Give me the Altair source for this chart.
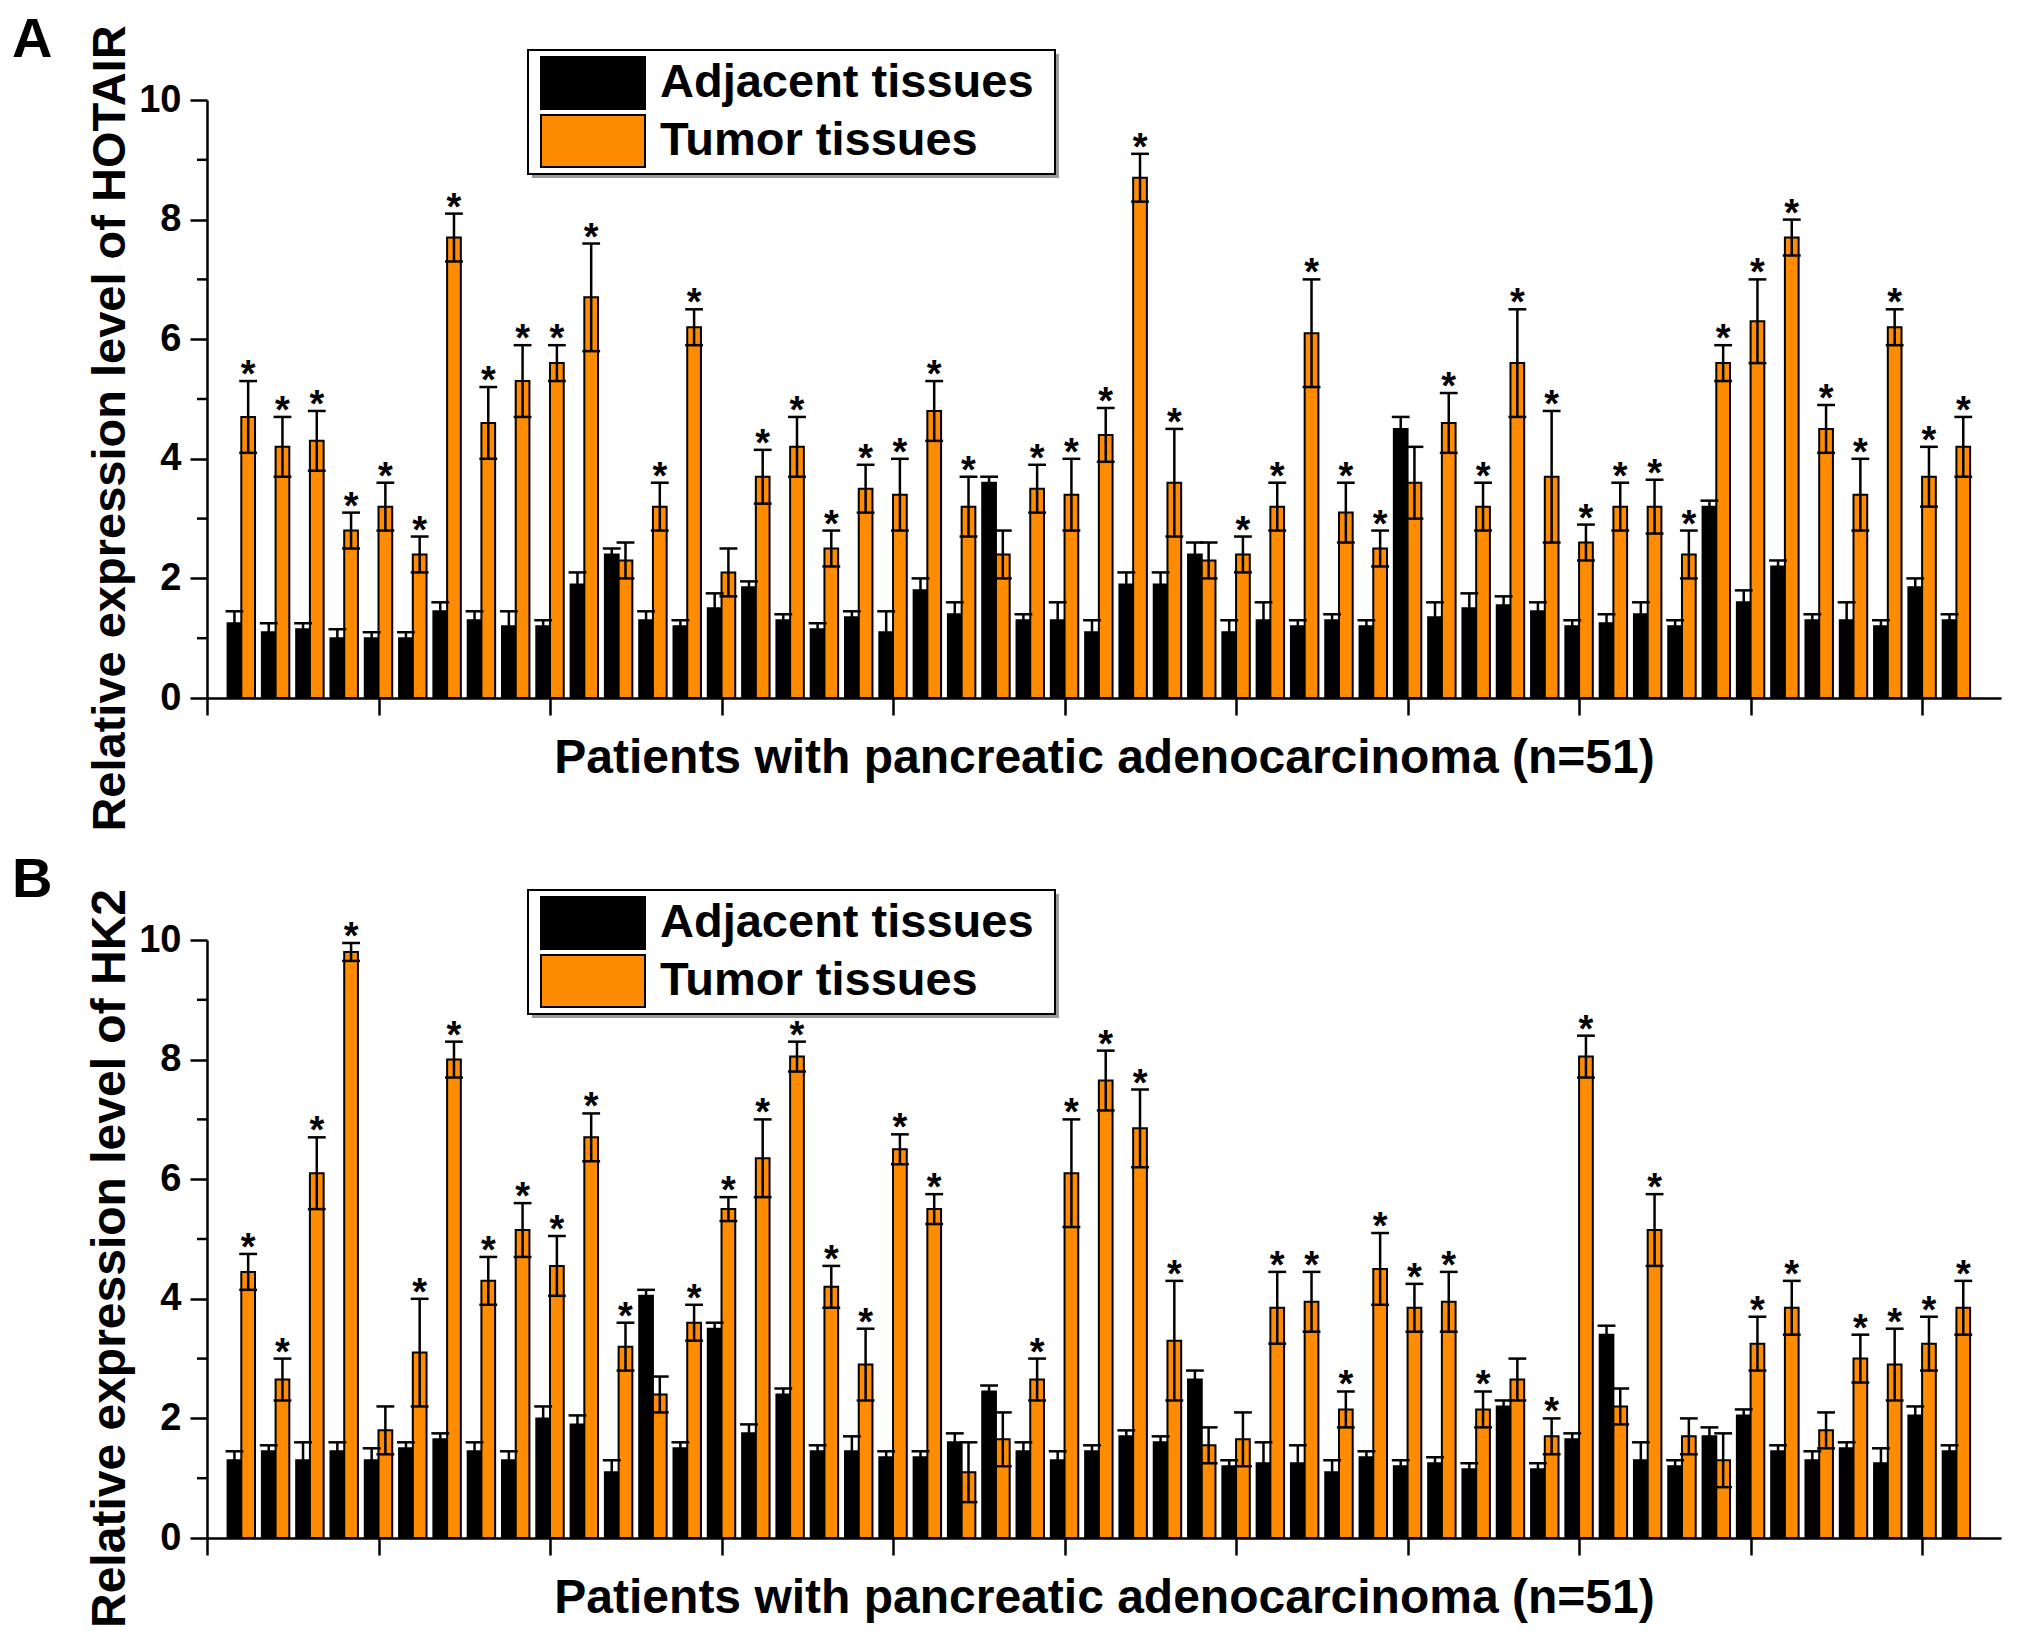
import altair as alt
import pandas as pd

patients = list(range(1, 52))

hotair_adj = [1.25, 1.1, 1.15, 1.0, 1.0, 1.0, 1.45, 1.3, 1.2, 1.2,
              1.9, 2.4, 1.3, 1.2, 1.5, 1.85, 1.3, 1.15, 1.35, 1.1,
              1.8, 1.4, 3.6, 1.3, 1.3, 1.1, 1.9, 1.9, 2.4, 1.1,
              1.3, 1.2, 1.3, 1.2, 4.5, 1.35, 1.5, 1.55, 1.45, 1.2,
              1.25, 1.4, 1.2, 3.2, 1.6, 2.2, 1.3, 1.3, 1.2, 1.85, 1.3]
hotair_adj_err = [0.2, 0.15, 0.1, 0.15, 0.1, 0.1, 0.15, 0.15, 0.25, 0.1,
                  0.2, 0.1, 0.15, 0.1, 0.25, 0.1, 0.1, 0.1, 0.1, 0.35,
                  0.2, 0.2, 0.1, 0.1, 0.3, 0.2, 0.2, 0.2, 0.2, 0.2,
                  0.3, 0.1, 0.1, 0.1, 0.2, 0.25, 0.25, 0.15, 0.15, 0.1,
                  0.15, 0.2, 0.1, 0.1, 0.2, 0.1, 0.1, 0.3, 0.1, 0.15, 0.1]
hotair_tum = [4.7, 4.2, 4.3, 2.8, 3.2, 2.4, 7.7, 4.6, 5.3, 5.6,
              6.7, 2.3, 3.2, 6.2, 2.1, 3.7, 4.2, 2.5, 3.5, 3.4,
              4.8, 3.2, 2.4, 3.5, 3.4, 4.4, 8.7, 3.6, 2.3, 2.4,
              3.2, 6.1, 3.1, 2.5, 3.6, 4.6, 3.2, 5.6, 3.7, 2.6,
              3.2, 3.2, 2.4, 5.6, 6.3, 7.7, 4.5, 3.4, 6.2, 3.7, 4.2]
hotair_tum_err = [0.6, 0.5, 0.5, 0.3, 0.4, 0.3, 0.4, 0.6, 0.6, 0.3,
                  0.9, 0.3, 0.4, 0.3, 0.4, 0.45, 0.5, 0.3, 0.4, 0.6,
                  0.5, 0.5, 0.4, 0.4, 0.6, 0.45, 0.4, 0.9, 0.3, 0.3,
                  0.4, 0.9, 0.5, 0.3, 0.6, 0.5, 0.4, 0.9, 1.1, 0.3,
                  0.4, 0.45, 0.4, 0.3, 0.7, 0.3, 0.4, 0.6, 0.3, 0.5, 0.5]
hotair_sig = [1, 1, 1, 1, 1, 1, 1, 1, 1, 1,
              1, 0, 1, 1, 0, 1, 1, 1, 1, 1,
              1, 1, 0, 1, 1, 1, 1, 1, 0, 1,
              1, 1, 1, 1, 0, 1, 1, 1, 1, 1,
              1, 1, 1, 1, 1, 1, 1, 1, 1, 1, 1]

hk2_adj = [1.3, 1.45, 1.3, 1.45, 1.3, 1.5, 1.65, 1.45, 1.3, 2.0,
           1.9, 1.1, 4.05, 1.5, 3.5, 1.75, 2.4, 1.45, 1.45, 1.35,
           1.35, 1.6, 2.45, 1.45, 1.3, 1.45, 1.7, 1.6, 2.65, 1.2,
           1.25, 1.25, 1.1, 1.35, 1.2, 1.25, 1.15, 2.2, 1.15, 1.65,
           3.4, 1.3, 1.2, 1.7, 2.05, 1.45, 1.3, 1.5, 1.25, 2.05, 1.45]
hk2_adj_err = [0.15, 0.1, 0.3, 0.15, 0.2, 0.1, 0.1, 0.15, 0.15, 0.2,
               0.15, 0.2, 0.1, 0.1, 0.1, 0.15, 0.1, 0.1, 0.25, 0.1,
               0.1, 0.15, 0.1, 0.15, 0.15, 0.1, 0.1, 0.1, 0.15, 0.1,
               0.35, 0.3, 0.2, 0.1, 0.1, 0.1, 0.1, 0.1, 0.1, 0.1,
               0.15, 0.3, 0.1, 0.15, 0.1, 0.1, 0.15, 0.1, 0.25, 0.15, 0.1]
hk2_tum = [4.45, 2.65, 6.1, 9.8, 1.8, 3.1, 8.0, 4.3, 5.15, 4.55,
           6.7, 3.2, 2.4, 3.6, 5.5, 6.35, 8.05, 4.2, 2.9, 6.5,
           5.5, 1.1, 1.65, 2.65, 6.1, 7.65, 6.85, 3.3, 1.55, 1.65,
           3.85, 3.95, 2.15, 4.5, 3.85, 3.95, 2.15, 2.65, 1.7, 8.05,
           2.2, 5.15, 1.7, 1.3, 3.25, 3.85, 1.8, 3.0, 2.9, 3.25, 3.85]
hk2_tum_err = [0.3, 0.35, 0.6, 0.15, 0.4, 0.9, 0.3, 0.4, 0.45, 0.5,
               0.4, 0.4, 0.3, 0.3, 0.2, 0.65, 0.25, 0.35, 0.6, 0.25,
               0.25, 0.5, 0.45, 0.35, 0.9, 0.5, 0.65, 1.0, 0.3, 0.45,
               0.6, 0.5, 0.3, 0.6, 0.4, 0.5, 0.3, 0.35, 0.3, 0.35,
               0.3, 0.6, 0.3, 0.45, 0.45, 0.45, 0.3, 0.4, 0.6, 0.45, 0.45]
hk2_sig = [1, 1, 1, 1, 0, 1, 1, 1, 1, 1,
           1, 1, 0, 1, 1, 1, 1, 1, 1, 1,
           1, 0, 0, 1, 1, 1, 1, 1, 0, 0,
           1, 1, 1, 1, 1, 1, 1, 0, 1, 1,
           0, 1, 0, 0, 1, 1, 0, 1, 1, 1, 1]

groups = ["Adjacent tissues", "Tumor tissues"]
colors = ["#000000", "#FF8C00"]
x_ticks = [0, 5, 10, 15, 20, 25, 30, 35, 40, 45, 50]
y_ticks = [0, 2, 4, 6, 8, 10]
y_minor = [1, 3, 5, 7, 9]
x_title = "Patients with pancreatic adenocarcinoma (n=51)"

FONT = "Liberation Sans"
HALF = 0.4     # bar width in patient units
CAP = 0.26     # half width of error-bar caps
PW, PH = 1794, 598

# legend layout (pixels, relative to the plot's top-left corner)
LEG_BOX = (321, 848, -50, 74)
SW_X = (334, 438)
SW_Y0, SW_H, ROW = -43, 52, 58
TXT_X = 453


def frames(adj, adj_err, tum, tum_err, sig):
    rows = []
    for i, p in enumerate(patients):
        rows.append(dict(patient=p, group=groups[0], value=adj[i], lo=adj[i],
                         hi=adj[i] + adj_err[i], x0=p - HALF, x1=p,
                         xc=p - HALF / 2, star=0))
        rows.append(dict(patient=p, group=groups[1], value=tum[i],
                         lo=tum[i] - tum_err[i], hi=tum[i] + tum_err[i],
                         x0=p, x1=p + HALF, xc=p + HALF / 2, star=sig[i]))
    df = pd.DataFrame(rows)
    top = df.assign(cy=df["hi"])
    bot = df[df["group"] == groups[1]].assign(cy=lambda d: d["lo"])
    caps = pd.concat([top, bot], ignore_index=True)
    caps["cx0"] = caps["xc"] - CAP
    caps["cx1"] = caps["xc"] + CAP
    return df, caps


def panel(df, caps, ytitle, letter, title_y, title_size):
    xscale = alt.Scale(domain=[0, 52.3], nice=False, zero=False)
    yscale = alt.Scale(domain=[0, 10], nice=False, zero=True)
    cscale = alt.Scale(domain=groups, range=colors)
    xaxis = alt.Axis(values=x_ticks, labels=False, ticks=True, tickSize=17,
                     tickWidth=2.5, tickColor="black", domainColor="black",
                     domainWidth=2.5, grid=False, title=x_title,
                     titleFont=FONT, titleFontSize=48, titleFontWeight="bold",
                     titleColor="black", titlePadding=18)
    yaxis = alt.Axis(values=y_ticks, tickSize=17, tickWidth=2.5,
                     tickColor="black", domainColor="black", domainWidth=2.5,
                     grid=False, labelFont=FONT, labelFontSize=38,
                     labelFontWeight="bold", labelColor="black",
                     labelPadding=9, title=ytitle, titleFont=FONT,
                     titleFontSize=title_size, titleFontWeight="bold",
                     titleColor="black", titlePadding=4, titleY=title_y)

    def X(f):
        return alt.X(f, scale=xscale, axis=xaxis)

    def Y(f):
        return alt.Y(f, scale=yscale, axis=yaxis)

    base = alt.Chart(df)
    bars = base.mark_bar(stroke="black", strokeWidth=2).encode(
        x=X("x0:Q"), x2="x1:Q", y=Y("value:Q"), y2=alt.datum(0),
        color=alt.Color("group:N", scale=cscale, legend=None),
    )
    err = base.mark_rule(color="black", strokeWidth=2.5).encode(
        x=X("xc:Q"), y=Y("lo:Q"), y2="hi:Q")
    capm = alt.Chart(caps).mark_rule(color="black", strokeWidth=2.5).encode(
        x=X("cx0:Q"), x2="cx1:Q", y=Y("cy:Q"))
    stars = base.transform_filter("datum.star == 1").mark_text(
        text="*", font=FONT, fontSize=38, fontWeight="bold",
        baseline="alphabetic", dy=6, color="black").encode(
        x=X("xc:Q"), y=Y("hi:Q"))
    minor = alt.Chart(pd.DataFrame({"m": y_minor})).mark_rule(
        color="black", strokeWidth=2.5).encode(
        y=Y("m:Q"), x=alt.value(-10), x2=alt.value(0))
    lab = alt.Chart(pd.DataFrame({"t": [letter]})).mark_text(
        font=FONT, fontSize=56, fontWeight="bold", align="left",
        baseline="alphabetic", color="black").encode(
        text="t:N", x=alt.value(-195), y=alt.value(-43))

    # legend drawn as marks, one small chart per element, pixel positions
    one = alt.Chart(pd.DataFrame({"k": [0]}))
    shadow = one.mark_rect(fill="#9a9a9a").encode(
        x=alt.value(LEG_BOX[0] + 4), x2=alt.value(LEG_BOX[1] + 4),
        y=alt.value(LEG_BOX[2] + 4), y2=alt.value(LEG_BOX[3] + 4))
    box = one.mark_rect(fill="white", stroke="black", strokeWidth=2).encode(
        x=alt.value(LEG_BOX[0]), x2=alt.value(LEG_BOX[1]),
        y=alt.value(LEG_BOX[2]), y2=alt.value(LEG_BOX[3]))
    items = []
    for r, (g, c) in enumerate(zip(groups, colors)):
        y0 = SW_Y0 + r * ROW
        items.append(one.mark_rect(fill=c, stroke="black", strokeWidth=2).encode(
            x=alt.value(SW_X[0]), x2=alt.value(SW_X[1]),
            y=alt.value(y0), y2=alt.value(y0 + SW_H)))
        items.append(one.mark_text(text=g, font=FONT, fontSize=47,
                                   fontWeight="bold", align="left",
                                   baseline="middle", color="black").encode(
            x=alt.value(TXT_X), y=alt.value(y0 + SW_H / 2)))

    return alt.layer(bars, err, capm, stars, minor, lab,
                     shadow, box, *items).properties(width=PW, height=PH)


dfA, capsA = frames(hotair_adj, hotair_adj_err, hotair_tum, hotair_tum_err, hotair_sig)
dfB, capsB = frames(hk2_adj, hk2_adj_err, hk2_tum, hk2_tum_err, hk2_sig)

pA = panel(dfA, capsA, "Relative expression level of HOTAIR", "A", 328, 47)
pB = panel(dfB, capsB, "Relative expression level of HK2", "B", 318, 48)

chart = alt.vconcat(pA, pB, spacing=20).properties(
    padding={"left": 4, "top": 4, "right": 5, "bottom": 5},
    background="white").configure_view(stroke=None)

chart.save("out.html", embed_options={"renderer": "svg", "actions": False})
